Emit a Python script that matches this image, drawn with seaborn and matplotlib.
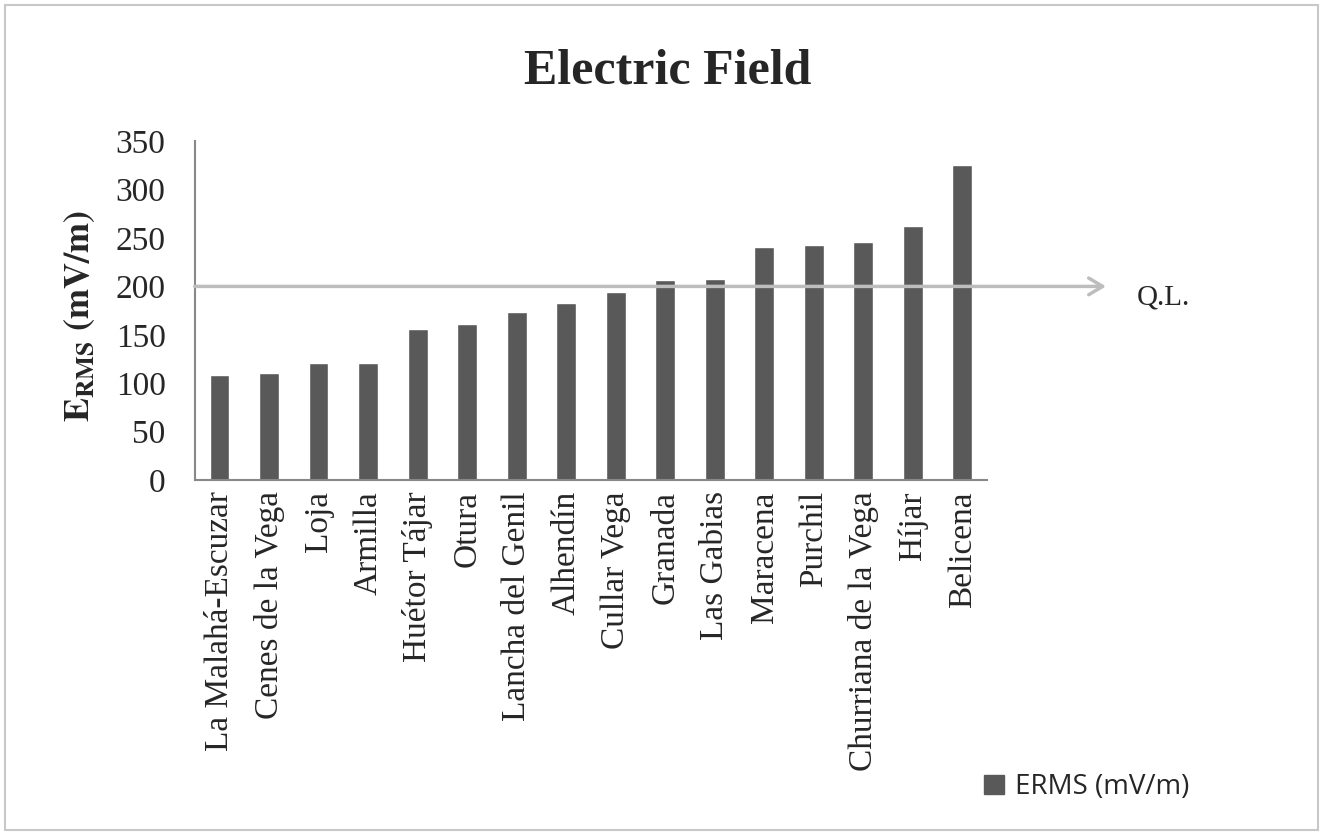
import matplotlib
matplotlib.use("Agg")
import matplotlib.pyplot as plt
from matplotlib.patches import Rectangle
import seaborn as sns
import pandas as pd

# Measured RMS electric field per municipality (mV/m)
towns = [
    "La Malahá-Escuzar", "Cenes de la Vega", "Loja", "Armilla", "Huétor Tájar",
    "Otura", "Lancha del Genil", "Alhendín", "Cullar Vega", "Granada",
    "Las Gabias", "Maracena", "Purchil", "Churriana de la Vega", "Híjar", "Belicena",
]
erms = [109, 111, 121, 121, 156, 161, 174, 183, 194, 207, 208, 241, 243, 246, 262, 325]
quality_limit = 200
yticks = [0, 50, 100, 150, 200, 250, 300, 350]

df = pd.DataFrame({"town": towns, "erms": erms})

sns.set_style("white")
plt.rcParams["font.family"] = ["Liberation Serif", "DejaVu Serif"]
plt.rcParams["mathtext.fontset"] = "stix"

fig = plt.figure(figsize=(13.25, 8.35), dpi=100)
ax = fig.add_axes([0.147, 0.425, 0.598, 0.406])

bar_color = "#595959"
sns.barplot(data=df, x="town", y="erms", color=bar_color, saturation=1,
            width=0.4, ax=ax)

ax.set_xlim(-0.5, len(towns) - 0.5)
ax.set_ylim(0, 350)
ax.set_yticks(yticks)
ax.set_yticklabels([str(v) for v in yticks], fontsize=24)

ax.set_xticks(range(len(towns)))
ax.set_xticklabels(towns, rotation=90, fontsize=24)
ax.set_xticks([i - 0.5 for i in range(len(towns) + 1)], minor=True)
ax.tick_params(axis="x", which="major", length=0, pad=8)
ax.tick_params(axis="x", which="minor", length=7, width=1.2, color="#888888",
               direction="out")
ax.tick_params(axis="y", length=9, width=1.2, color="#888888", direction="out",
               pad=12)

for side in ("top", "right"):
    ax.spines[side].set_visible(False)
for side in ("left", "bottom"):
    ax.spines[side].set_color("#888888")
    ax.spines[side].set_linewidth(1.5)

ax.set_xlabel("")
ax.set_ylabel("")
fig.text(80 / 1325, 1 - 316 / 835, r"$\mathbf{E_{RMS}\ (mV/m)}$", fontsize=26,
         rotation=90, ha="center", va="center")

# Quality-limit arrow running past the plot area
ax.annotate("", xy=(17.9, quality_limit), xytext=(-0.5, quality_limit),
            xycoords="data", textcoords="data", annotation_clip=False,
            arrowprops=dict(arrowstyle="->,head_length=1.0,head_width=0.6",
                            color="#bdbdbd", lw=2.5, shrinkA=0, shrinkB=0))
fig.text(1137 / 1325, 1 - 304 / 835, "Q.L.", fontsize=21, ha="left",
         va="baseline")

fig.text(668 / 1325, 1 - 83 / 835, "Electric Field", fontsize=36,
         fontweight="bold", ha="center", va="baseline")

# Legend entry
handle = Rectangle((0, 0), 1, 1, color=bar_color)
fig.legend([handle], ["ERMS (mV/m)"], loc="center left",
           bbox_to_anchor=(0.724, 0.057), frameon=False, handlelength=0.7,
           handleheight=0.7, handletextpad=0.4,
           prop={"family": "Open Sans", "size": 20})

# Chart frame
fig.patches.append(Rectangle((0.004, 0.006), 0.991, 0.988, transform=fig.transFigure,
                             fill=False, edgecolor="#c8c8c8", linewidth=1.5))

fig.savefig("out.png", dpi=100)
